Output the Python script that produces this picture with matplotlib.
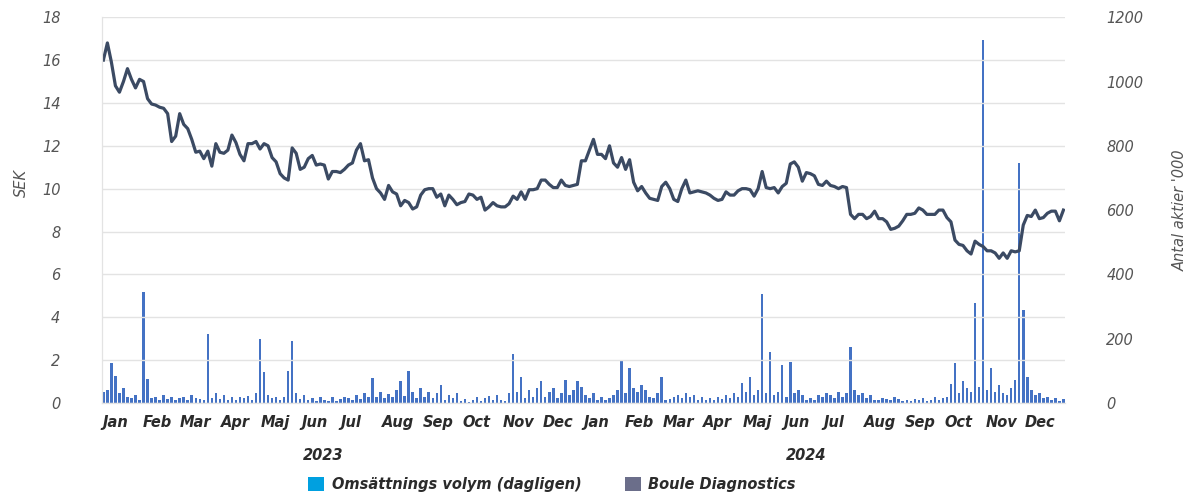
from matplotlib import pyplot as plt
from matplotlib.patches import Patch
import matplotlib.transforms as mtransforms
import numpy as np
import pandas as pd

### - Data (~10 samples per month)

price_sek = [
    16.0, 16.8, 15.9, 14.8, 14.5, 15.0, 15.6, 15.1, 14.7, 15.1,
    15.0, 14.2, 13.95, 13.9, 13.8, 13.75, 13.5, 12.2, 12.45, 13.5,
    13.0, 12.8, 12.3, 11.7, 11.75, 11.4, 11.75, 11.05, 12.1, 11.7,
    11.65, 11.8, 12.5, 12.15, 11.6, 11.3, 12.1, 12.1, 12.2, 11.85,
    12.1, 12.0, 11.45, 11.25, 10.7, 10.5, 10.4, 11.9, 11.65, 10.9,
    11.0, 11.4, 11.55, 11.1, 11.15, 11.1, 10.45, 10.8, 10.8, 10.75,
    10.9, 11.1, 11.2, 11.8, 12.1, 11.3, 11.35, 10.5, 10.0, 9.8,
    9.5, 10.15, 9.85, 9.75, 9.2, 9.45, 9.35, 9.05, 9.15, 9.7,
    9.95, 10.0, 10.0, 9.6, 9.75, 9.2, 9.7, 9.5, 9.25, 9.35,
    9.4, 9.75, 9.7, 9.5, 9.6, 9.0, 9.15, 9.35, 9.2, 9.15,
    9.15, 9.3, 9.65, 9.5, 9.85, 9.5, 9.95, 9.95, 10.0, 10.4,
    10.4, 10.2, 10.05, 10.05, 10.4, 10.15, 10.1, 10.15, 10.2, 11.3,
    11.3, 11.8, 12.3, 11.6, 11.6, 11.4, 12.0, 11.2, 11.0, 11.45,
    10.9, 11.35, 10.3, 9.9, 10.1, 9.8, 9.55, 9.5, 9.45, 10.1,
    10.3, 10.0, 9.5, 9.4, 10.0, 10.4, 9.8, 9.85, 9.9, 9.85,
    9.8, 9.7, 9.55, 9.45, 9.5, 9.85, 9.7, 9.7, 9.9, 10.0,
    10.0, 9.95, 9.65, 10.0, 10.8, 10.05, 10.0, 10.05, 9.8, 10.1,
    10.25, 11.15, 11.25, 11.0, 10.35, 10.75, 10.7, 10.6, 10.2, 10.15,
    10.35, 10.15, 10.1, 10.0, 10.1, 10.05, 8.8, 8.6, 8.8, 8.8,
    8.6, 8.7, 8.95, 8.6, 8.6, 8.45, 8.1, 8.15, 8.25, 8.5,
    8.8, 8.8, 8.85, 9.1, 9.0, 8.8, 8.8, 8.8, 9.0, 9.0,
    8.65, 8.45, 7.6, 7.4, 7.35, 7.1, 6.95, 7.55, 7.4, 7.3,
    7.1, 7.1, 7.0, 6.75, 7.0, 6.75, 7.1, 7.05, 7.1, 8.3,
    8.75, 8.7, 9.0, 8.6, 8.65, 8.85, 8.95, 8.95, 8.5, 9.0,
]

volume_k = [
    35, 40, 125, 85, 30, 45, 20, 15, 25, 10,
    345, 75, 15, 20, 10, 25, 12, 20, 8, 15,
    20, 10, 25, 15, 12, 8, 215, 15, 30, 12,
    25, 10, 18, 8, 20, 15, 22, 10, 30, 200,
    97, 25, 15, 20, 10, 18, 100, 193, 30, 12,
    25, 8, 15, 5, 20, 10, 6, 18, 5, 12,
    20, 15, 10, 25, 12, 30, 18, 77, 20, 35,
    15, 28, 20, 40, 67, 22, 100, 35, 15, 45,
    20, 35, 15, 30, 57, 10, 25, 15, 30, 5,
    12, 3, 8, 20, 5, 15, 22, 10, 25, 8,
    5, 30, 151, 35, 81, 15, 40, 20, 45, 67,
    20, 35, 45, 15, 30, 72, 25, 40, 67, 50,
    25, 15, 30, 10, 20, 8, 15, 25, 40, 134,
    30, 108, 45, 35, 57, 40, 20, 15, 30, 82,
    8, 12, 20, 25, 15, 30, 18, 25, 10, 20,
    8, 15, 10, 20, 12, 25, 15, 30, 20, 61,
    35, 82, 25, 40, 338, 30, 160, 25, 35, 118,
    20, 128, 30, 40, 25, 10, 15, 8, 25, 20,
    30, 25, 15, 35, 20, 30, 175, 40, 25, 30,
    15, 25, 10, 8, 15, 12, 8, 20, 12, 5,
    10, 5, 12, 8, 15, 5, 10, 20, 8, 15,
    20, 60, 123, 30, 67, 45, 35, 310, 50, 1130,
    40, 110, 35, 57, 30, 25, 45, 72, 745, 289,
    80, 40, 25, 30, 15, 20, 10, 15, 5, 12,
]

month_labels = ['Jan', 'Feb', 'Mar', 'Apr', 'Maj', 'Jun',
                'Jul', 'Aug', 'Sep', 'Oct', 'Nov', 'Dec'] * 2
years = ['2023', '2024']

dates = pd.date_range('2023-01-02', '2024-12-30', periods=len(price_sek))
month_starts = pd.date_range('2023-01-01', '2024-12-01', freq='MS')

### - Styling

plt.rcParams['font.family'] = ['DejaVu Sans']
line_col = '#3b4a63'
bar_col = '#4472c4'
grid_col = '#e3e3e3'
text_col = '#2b2b2b'

fig = plt.figure(figsize=(11.95, 4.92), dpi=100)
ax = fig.add_axes([0.0854, 0.181, 0.8056, 0.784])
ax2 = ax.twinx()
ax.set_zorder(ax2.get_zorder() + 1)   # price line above the volume bars
ax.patch.set_visible(False)

# volume bars (right axis)
ax2.bar(dates, volume_k, width=1.9, color=bar_col, linewidth=0)
ax2.set_ylim(0, 1200)
ax2.set_yticks(np.arange(0, 1201, 200))

# price line (left axis)
ax.plot(dates, price_sek, color=line_col, lw=2.3, solid_joinstyle='round')
ax.set_ylim(0, 18)
ax.set_yticks(np.arange(0, 19, 2))
ax.set_xlim(pd.Timestamp('2023-01-01'), pd.Timestamp('2024-12-31'))
ax.grid(axis='y', color=grid_col, lw=1)
ax.set_axisbelow(True)

ax.set_xticks(month_starts)
ax.set_xticklabels(month_labels, ha='left', fontsize=10.5, style='italic',
                   fontweight='bold', color=text_col)
ax.tick_params(axis='x', length=0, pad=9)
ax.tick_params(axis='y', length=0, pad=30, labelsize=10.5, labelcolor='#555555')
ax2.tick_params(axis='y', length=0, pad=30, labelsize=10.5, labelcolor='#555555')
for lab in ax.get_yticklabels() + ax2.get_yticklabels():
    lab.set_style('italic')

for a in (ax, ax2):
    for side in ('top', 'right'):
        a.spines[side].set_visible(False)
    a.spines['left'].set_color(grid_col)
    a.spines['bottom'].set_color(grid_col)

ax.set_ylabel('SEK', fontsize=10.5, style='italic', color='#555555')
ax.yaxis.set_label_coords(-0.076, 0.57)
ax2.set_ylabel("Antal aktier '000", fontsize=10.5, style='italic', color='#555555')
ax2.yaxis.set_label_coords(1.112, 0.5)

# year labels under the month labels
trans = mtransforms.blended_transform_factory(ax.transData, ax.transAxes)
for yr in years:
    ax.text(pd.Timestamp(yr + '-06-18'), -0.135, yr, transform=trans,
            ha='center', va='center', fontsize=10.5, style='italic',
            fontweight='bold', color=text_col)

handles = [Patch(facecolor='#00a0e0', label='Omsättnings volym (dagligen)'),
           Patch(facecolor='#6b6e8a', label='Boule Diagnostics')]
leg = fig.legend(handles=handles, loc='center', ncol=2, bbox_to_anchor=(0.462, 0.015),
                 frameon=False, handlelength=1.1, handleheight=1.1, columnspacing=3.0,
                 handletextpad=0.5, prop={'style': 'italic', 'weight': 'bold', 'size': 10.5})
for t in leg.get_texts():
    t.set_color(text_col)

fig.savefig('out.png', dpi=100)
